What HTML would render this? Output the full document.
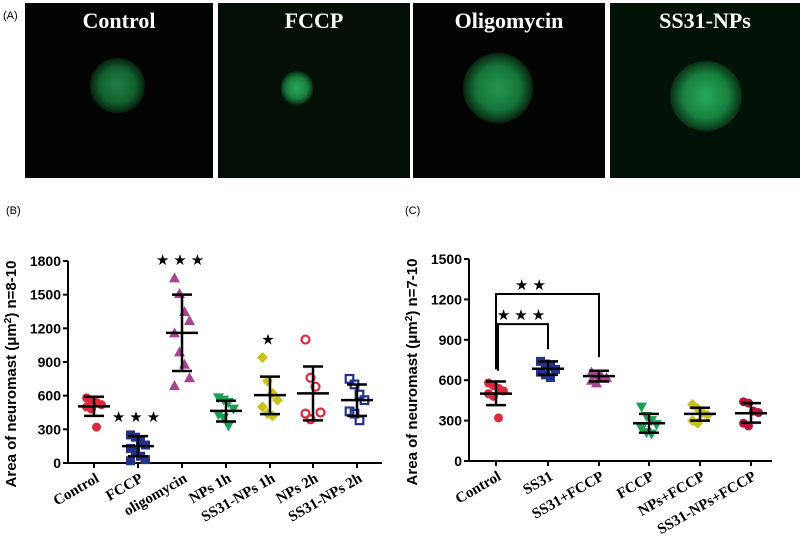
<!DOCTYPE html>
<html><head><meta charset="utf-8">
<style>
body{margin:0;background:#fff;width:800px;height:545px;overflow:hidden;font-family:"Liberation Sans",sans-serif}
.img{position:absolute;top:3px;height:175px;background:#020402;overflow:hidden}
.img .t{position:absolute;top:5px;width:100%;text-align:center;color:#fff;font:bold 22px "Liberation Serif",serif}
.blob{position:absolute;border-radius:50%;background:radial-gradient(circle,#27a85a 0%,#18803f 45%,rgba(10,60,25,0.4) 75%,rgba(0,0,0,0) 100%)}
</style></head><body>
<div style="position:absolute;left:3px;top:10px;font-size:11px">(A)</div>
<div class="img" style="left:25px;width:188px"><div class="t">Control</div><div class="blob" style="left:65px;top:55px;width:55px;height:55px;opacity:.75"></div></div>
<div class="img" style="left:218px;width:192px;background:#041006"><div class="t">FCCP</div><div class="blob" style="left:63px;top:68px;width:32px;height:34px"></div></div>
<div class="img" style="left:413px;width:192px"><div class="t">Oligomycin</div><div class="blob" style="left:50px;top:50px;width:70px;height:70px;opacity:.9"></div></div>
<div class="img" style="left:610px;width:190px;background:#031206"><div class="t">SS31-NPs</div><div class="blob" style="left:60px;top:58px;width:72px;height:70px"></div></div>
<div style="position:absolute;left:6px;top:205px;font-size:11px">(B)</div>
<div style="position:absolute;left:405px;top:205px;font-size:11px">(C)</div>
<svg id="s" width="800" height="545" style="position:absolute;left:0;top:0"></svg>
<script>
const catsB=["Control","FCCP","oligomycin","NPs 1h","SS31-NPs 1h","NPs 2h","SS31-NPs 2h"];
const ptsB=[[580,560,540,520,500,480,320],[250,230,200,160,130,100,60,30,20],[1650,1510,1350,1270,1160,990,880,760,690],[580,560,540,480,430,400,330],[940,730,620,560,500,440,420],[1100,760,680,450,440,390],[750,700,610,560,460,440,380]];
const meanB=[505,150,1160,465,605,620,560];
const sdLoB=[420,60,820,370,435,380,420];
const sdHiB=[590,240,1500,555,770,860,700];
const starsB=["","★★★","★★★","","★","",""];
const ticksB=[0,300,600,900,1200,1500,1800];
const catsC=["Control","SS31","SS31+FCCP","FCCP","NPs+FCCP","SS31-NPs+FCCP"];
const ptsC=[[580,560,540,520,500,480,320],[740,720,700,680,660,640,620],[660,640,630,620,600,580],[400,330,300,270,240,210,200],[420,390,360,340,300,280],[440,430,370,360,280,260]];
const meanC=[500,685,630,280,350,355];
const sdLoC=[415,640,590,210,300,285];
const sdHiC=[590,740,670,350,395,430];
const ticksC=[0,300,600,900,1200,1500];
const NS="http://www.w3.org/2000/svg";
const svg=document.getElementById('s');
function mk(t,a,p){const e=document.createElementNS(NS,t);for(const k in a)e.setAttribute(k,a[k]);(p||svg).appendChild(e);return e;}
function marker(g,type,x,y,c){
 let e;
 if(type=="circle")e=mk('circle',{cx:x,cy:y,r:4.5,fill:c},g);
 else if(type=="ocircle")e=mk('circle',{cx:x,cy:y,r:4,fill:'none',stroke:c,'stroke-width':2.2},g);
 else if(type=="square")e=mk('rect',{x:x-4.5,y:y-4.5,width:9,height:9,fill:c},g);
 else if(type=="osquare")e=mk('rect',{x:x-3.8,y:y-3.8,width:7.6,height:7.6,fill:'none',stroke:c,'stroke-width':2.2},g);
 else if(type=="tri")e=mk('polygon',{points:`${x},${y-5.5} ${x-5.5},${y+4.5} ${x+5.5},${y+4.5}`,fill:c},g);
 else if(type=="itri")e=mk('polygon',{points:`${x},${y+5.5} ${x-5.5},${y-4.5} ${x+5.5},${y-4.5}`,fill:c},g);
 else e=mk('polygon',{points:`${x},${y-5.5} ${x+5.5},${y} ${x},${y+5.5} ${x-5.5},${y}`,fill:c},g);
 
 
}
function panel(id,cats,pts,mean,lo,hi,ticks,max,x0,x1,yTop,yBot,cx,types,cols,ytitle){
 const g=mk('g',{});
 
 
 const Y=v=>yBot-(v/max)*(yBot-yTop);
 mk('line',{x1:x0,y1:yTop,x2:x0,y2:yBot,stroke:'#000','stroke-width':2},g);
 mk('line',{x1:x0,y1:yBot,x2:x1,y2:yBot,stroke:'#000','stroke-width':2},g);
 ticks.forEach(t=>{mk('line',{x1:x0-5,y1:Y(t),x2:x0,y2:Y(t),stroke:'#000','stroke-width':2},g);
  const tx=mk('text',{x:x0-7,y:Y(t)+5,'text-anchor':'end','font-size':14,'font-weight':'bold','font-family':'Liberation Sans'},g);tx.textContent=t;
  });
 const yt=mk('text',{transform:`translate(${x0-52},${(yTop+yBot)/2+12}) rotate(-90)`,'text-anchor':'middle','font-size':15,'font-weight':'bold','font-family':'Liberation Sans'},g);
 yt.innerHTML=ytitle;
 cats.forEach((c,i)=>{const x=cx[i];
  mk('line',{x1:x,y1:yBot,x2:x,y2:yBot+5,stroke:'#000','stroke-width':2},g);
  const tx=mk('text',{transform:`translate(${x+6},${yBot+18}) rotate(-30)`,'text-anchor':'end','font-size':15,'font-weight':'bold','font-family':'Liberation Serif'},g);tx.textContent=c;
  
  pts[i].forEach((v,j)=>{const off=((j%4)-1.5)*5;marker(g,types[i],x+off,Y(v),cols[i]);});
  const bar=(v,w)=>mk('line',{x1:x-w,y1:Y(v),x2:x+w,y2:Y(v),stroke:'#000','stroke-width':2.5},g);
  mk('line',{x1:x,y1:Y(hi[i]),x2:x,y2:Y(lo[i]),stroke:'#000','stroke-width':2.5},g);
  bar(mean[i],16);bar(hi[i],10);bar(lo[i],10);
 });
 return {g,Y};
}
const B=panel('chart-b',catsB,ptsB,meanB,sdLoB,sdHiB,ticksB,1800,68,382,261,463,[94,138,182,226,270,313,357],
 ["circle","square","tri","itri","diamond","ocircle","osquare"],["#e0283c","#23338a","#a8448f","#1f9e55","#c9c21c","#e0283c","#23338a"],
 'Area of neuromast (μm<tspan dy="-5" font-size="10">2</tspan><tspan dy="5">)   n=8-10</tspan>');
starsB.forEach((s,i)=>{if(!s)return;const cx=[94,138,182,226,270,313,357][i];
 const v=[0,ptsB[1][0],ptsB[2][0],0,ptsB[4][0],0,0][i];
 const t=mk('text',{x:cx,y:B.Y(v)-13,'text-anchor':'middle','font-size':15,'letter-spacing':4},B.g);t.textContent=s;
 });
const C=panel('chart-c',catsC,ptsC,meanC,sdLoC,sdHiC,ticksC,1500,469,772,259,461,[496,548,599,649,700,751],
 ["circle","square","tri","itri","diamond","circle"],["#e0283c","#23338a","#a8448f","#1f9e55","#c9c21c","#b5163a"],
 'Area of neuromast (μm<tspan dy="-5" font-size="10">2</tspan><tspan dy="5">)   n=7-10</tspan>');
const brackets=[[0,2,1240,680,770,"★★"],[0,1,1016,670,830,"★★★"]];
brackets.forEach(b=>{const xs=[496,548,599];const xa=xs[b[0]]+(b[1]==1?2:0),xb=xs[b[1]];
 const p=mk('polyline',{points:`${xa},${C.Y(b[3])} ${xa},${C.Y(b[2])} ${xb},${C.Y(b[2])} ${xb},${C.Y(b[4])}`,fill:'none',stroke:'#000','stroke-width':2},C.g);
 
 const t=mk('text',{x:(xa+xb)/2-(b[1]==2?15:0),y:C.Y(b[2])-4,'text-anchor':'middle','font-size':15,'letter-spacing':4},C.g);t.textContent=b[5];
 });
</script>
</body></html>
